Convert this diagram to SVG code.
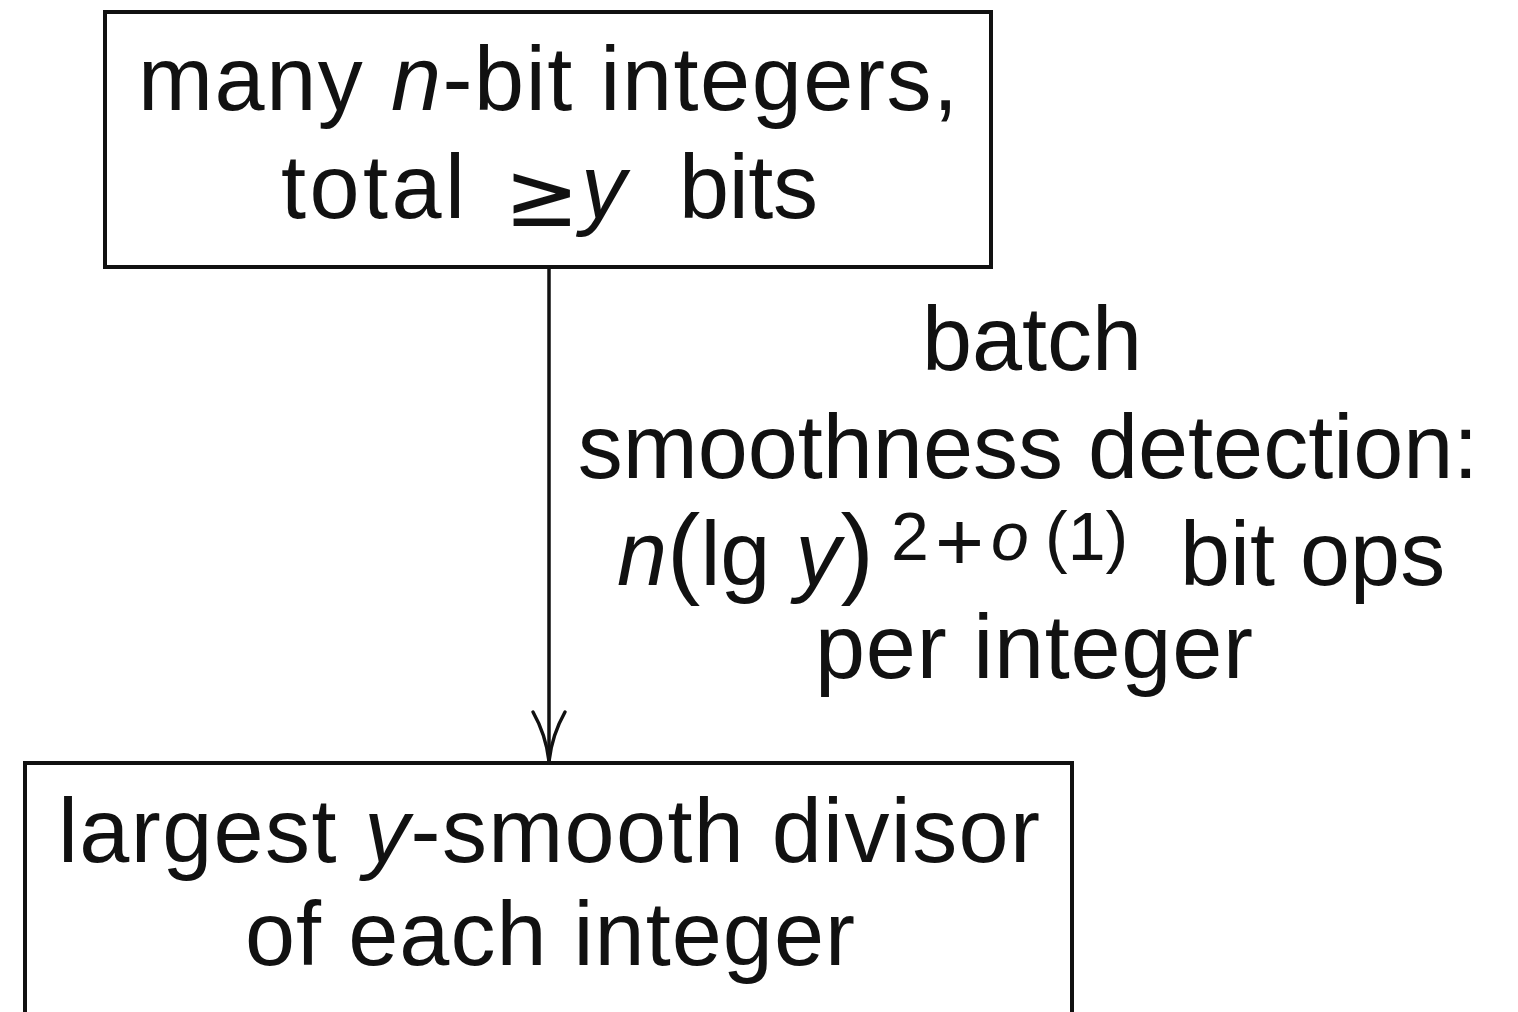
<svg xmlns="http://www.w3.org/2000/svg" width="1518" height="1012" viewBox="0 0 1518 1012">
  <style>
    .box { fill: #fff; stroke: #111; stroke-width: 4; }
    .t { font-family: "Liberation Sans", Arial, sans-serif; font-size: 90px; fill: #111; }
    .it { font-style: italic; }
    .sup { font-size: 68px; }
    .rel { font-family: "DejaVu Sans", sans-serif; font-size: 90px; }
    .edge { fill: none; stroke: #111; stroke-width: 3.5; }
    .head { fill: none; stroke: #111; stroke-width: 3.5; stroke-linecap: round; }
  </style>
  <rect width="1518" height="1012" fill="#fff"/>

  <g id="connectors">
    <line class="edge" x1="549" y1="267" x2="549" y2="761"/>
    <path class="head" d="M533,712 Q546,735 549,761 M565,712 Q552,735 549,761"/>
    <g id="edge-label" class="t" text-anchor="middle">
      <text x="1032" y="370" textLength="220" lengthAdjust="spacing">batch</text>
      <text x="1028" y="478">smoothness detection:</text>
      <text y="585" text-anchor="start"><tspan x="617" class="it">n</tspan><tspan font-size="100">(</tspan>lg <tspan class="it">y</tspan><tspan font-size="100">)</tspan><tspan class="sup" x="891" y="560">2</tspan><tspan x="935" y="570" font-size="84">+</tspan><tspan class="sup it" x="991" y="560">o</tspan><tspan class="sup" x="1045" y="560">(1)</tspan><tspan x="1180" y="585">bit ops</tspan></text>
      <text x="1034" y="678" textLength="438" lengthAdjust="spacing">per integer</text>
    </g>
  </g>

  <g id="node-input">
    <rect class="box" x="105" y="12" width="886" height="255"/>
    <text class="t" x="548" y="110" text-anchor="middle" textLength="820" lengthAdjust="spacing">many <tspan class="it">n</tspan>-bit integers,</text>
    <text class="t" x="281" y="218" textLength="184" lengthAdjust="spacing">total</text>
    <text class="t rel" x="504" y="226">≥</text>
    <text class="t it" x="581" y="218">y</text>
    <text class="t" x="679" y="218" textLength="139" lengthAdjust="spacing">bits</text>
  </g>

  <g id="node-output">
    <rect class="box" x="25" y="763" width="1047" height="300"/>
    <text class="t" x="549" y="862" text-anchor="middle" textLength="982" lengthAdjust="spacing">largest <tspan class="it">y</tspan>-smooth divisor</text>
    <text class="t" x="550" y="965" text-anchor="middle" textLength="610" lengthAdjust="spacing">of each integer</text>
  </g>
</svg>
